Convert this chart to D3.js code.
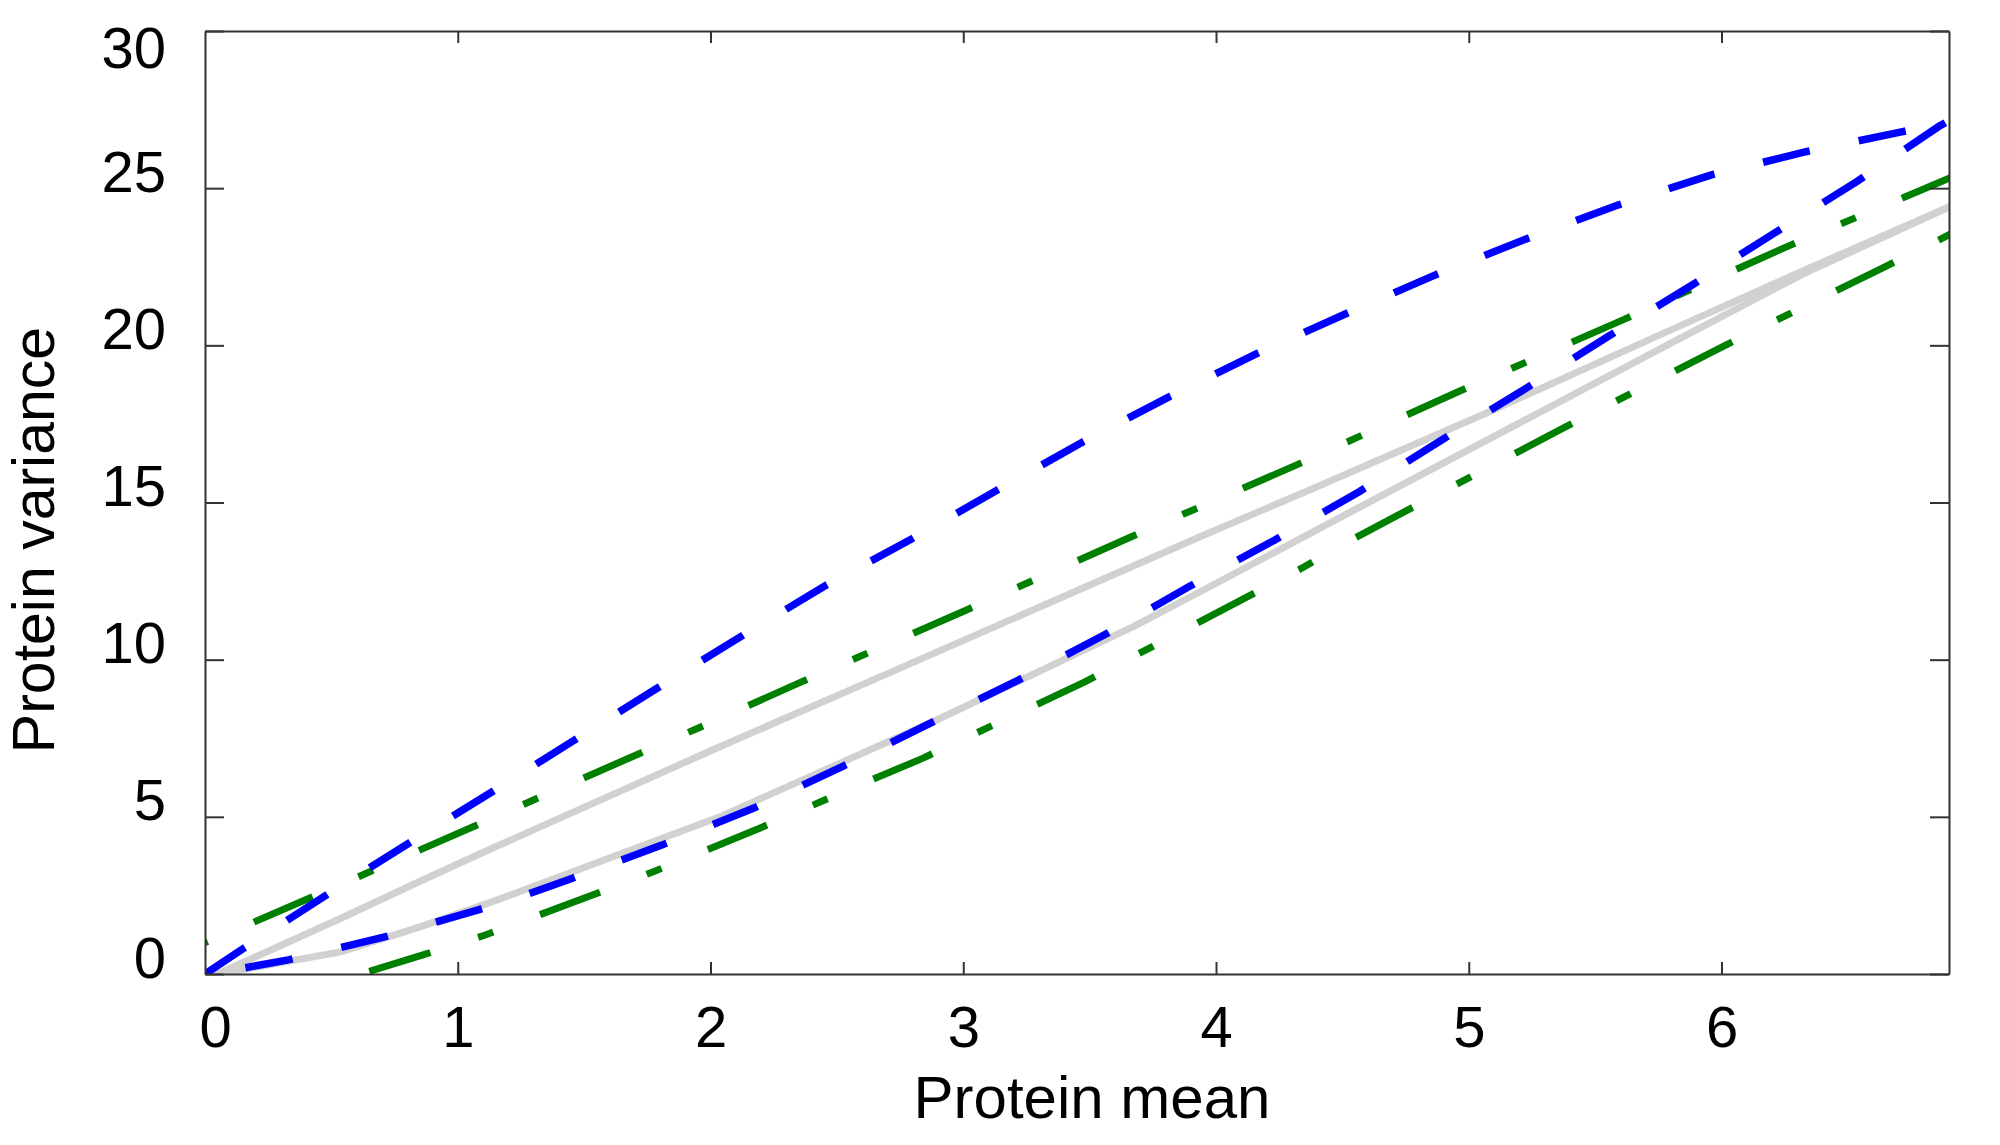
<!DOCTYPE html>
<html>
<head>
<meta charset="utf-8">
<script src="https://cdn.jsdelivr.net/npm/d3@7"></script>
<style>
  html, body { margin: 0; padding: 0; background: #ffffff; }
  svg { display: block; }
  text { font-family: "Liberation Sans", Arial, Helvetica, sans-serif; fill: #000; }
</style>
</head>
<body>
<svg id="chart" width="2000" height="1145"></svg>
<script>
// ---- data ----
const xTicks = [0, 1, 2, 3, 4, 5, 6];
const yTicks = [0, 5, 10, 15, 20, 25, 30];
const xLabel = "Protein mean";
const yLabel = "Protein variance";

// blue dashed band
const blueUpperX = [0, 0.154, 0.488, 0.814, 1.147, 1.473, 1.798, 2.131, 2.46, 2.801, 3.135, 3.476, 3.816, 4.165, 4.518, 4.868, 5.235, 5.593, 5.96, 6.334, 6.717, 6.9];
const blueUpperY = [0, 0.82, 2.55, 4.2, 5.85, 7.5, 9.14, 10.79, 12.38, 13.86, 15.40, 16.94, 18.37, 19.75, 21.02, 22.24, 23.41, 24.47, 25.42, 26.16, 26.80, 27.1];
const blueLowerX = [0, 0.146, 0.329, 0.707, 0.897, 1.081, 1.266, 1.451, 1.629, 1.807, 2.169, 2.521, 2.87, 3.218, 3.559, 3.892, 4.233, 4.568, 4.893, 5.226, 5.551, 5.884, 6.209, 6.535, 6.859, 6.9];
const blueLowerY = [0, 0.18, 0.45, 1.17, 1.61, 2.04, 2.51, 3.04, 3.57, 4.10, 5.27, 6.60, 7.98, 9.35, 10.79, 12.32, 13.81, 15.35, 16.99, 18.63, 20.28, 21.92, 23.57, 25.21, 26.96, 27.15];

// green dash-dot band
const greenUpperX = [0, 0.185, 0.412, 0.654, 1.063, 1.306, 1.715, 1.95, 2.362, 3.013, 3.665, 4.317, 4.96, 5.61, 6.259, 6.884, 6.92];
const greenUpperY = [1.0, 1.62, 2.41, 3.26, 4.69, 5.56, 7.0, 7.82, 9.30, 11.58, 13.91, 16.19, 18.53, 20.81, 23.14, 25.26, 25.38];
const greenLowerX = [0.616, 0.859, 1.109, 1.293, 1.533, 1.776, 2.192, 2.605, 2.839, 3.251, 3.483, 4.112, 4.339, 4.51, 4.735, 5.36, 5.993, 6.634, 6.859, 6.92];
const greenLowerY = [0, 0.60, 1.24, 1.79, 2.51, 3.26, 4.63, 6.07, 6.86, 8.42, 9.30, 11.95, 12.91, 13.70, 14.66, 17.31, 19.91, 22.45, 23.35, 23.6];

// gray solid band
const grayUpperX = [0.05, 0.54, 0.851, 1.114, 2.037, 2.75, 3.937, 4.4, 5.068, 5.8, 6.33, 6.9];
const grayUpperY = [0, 1.78, 2.95, 3.92, 7.23, 9.73, 13.91, 15.5, 17.84, 20.49, 22.4, 24.4];
const grayLowerX = [0.05, 0.54, 0.851, 1.154, 2.037, 2.895, 3.673, 3.937, 4.533, 5.8, 6.33, 6.9];
const grayLowerY = [0, 0.71, 1.50, 2.35, 5.0, 8.08, 11.05, 12.16, 14.7, 20.07, 22.3, 24.4];

// ---- layout ----
const plot = { left: 205, right: 1949, top: 31, bottom: 974 };
const axisColor = "#333333";

const svg = d3.select("#chart");
svg.append("rect").attr("width", 2000).attr("height", 1145).attr("fill", "#fff");

const x = d3.scaleLinear().domain([0, 6.9]).range([plot.left, plot.right]);
const y = d3.scaleLinear().domain([0, 30]).range([plot.bottom, plot.top]);

svg.append("defs").append("clipPath").attr("id", "clip")
  .append("rect")
  .attr("x", plot.left).attr("y", plot.top)
  .attr("width", plot.right - plot.left).attr("height", plot.bottom - plot.top);

const zip = (xs, ys) => xs.map((v, i) => [v, ys[i]]);
const band = (ux, uy, lx, ly) => zip(ux, uy).concat(zip(lx, ly).reverse());
const line = d3.line().x(d => x(d[0])).y(d => y(d[1]));

const g = svg.append("g").attr("clip-path", "url(#clip)");

g.append("path")
  .datum(zip(grayUpperX, grayUpperY))
  .attr("d", line).attr("fill", "none")
  .attr("stroke", "#d1d1d1").attr("stroke-width", 7).attr("stroke-linejoin", "round")
  .attr("stroke-linecap", "round");
g.append("path")
  .datum(zip(grayLowerX, grayLowerY))
  .attr("d", line).attr("fill", "none")
  .attr("stroke", "#d1d1d1").attr("stroke-width", 7).attr("stroke-linejoin", "round")
  .attr("stroke-linecap", "round");

g.append("path")
  .datum(band(greenUpperX, greenUpperY, greenLowerX, greenLowerY))
  .attr("d", line).attr("fill", "none")
  .attr("stroke", "#008000").attr("stroke-width", 7)
  .attr("stroke-dasharray", "64,50,16,50").attr("stroke-dashoffset", 127)
  .attr("stroke-linecap", "butt");

g.append("path")
  .datum(band(blueUpperX, blueUpperY, blueLowerX, blueLowerY))
  .attr("d", line).attr("fill", "none")
  .attr("stroke", "#0000ff").attr("stroke-width", 7.5)
  .attr("stroke-dasharray", "48,50")
  .attr("stroke-linecap", "butt");

// ---- axes ----
const fontSize = 58;
function styleAxis(sel) {
  sel.select(".domain").attr("stroke", axisColor).attr("stroke-width", 2);
  sel.selectAll(".tick line").attr("stroke", axisColor).attr("stroke-width", 2);
}

const gx = svg.append("g").attr("transform", `translate(0,${plot.bottom})`)
  .call(d3.axisBottom(x).tickValues(xTicks).tickFormat(d3.format("d"))
    .tickSizeInner(-12).tickSizeOuter(0).tickPadding(32));
styleAxis(gx);
gx.selectAll(".tick text")
  .attr("font-size", fontSize).attr("fill", "#000")
  .attr("dy", 0).attr("y", 73)
  .attr("x", d => Math.max(x(d), plot.left + 10) - x(d));

const gxTop = svg.append("g").attr("transform", `translate(0,${plot.top})`)
  .call(d3.axisTop(x).tickValues(xTicks).tickFormat("").tickSizeInner(-12).tickSizeOuter(0));
styleAxis(gxTop);

const gy = svg.append("g").attr("transform", `translate(${plot.left},0)`)
  .call(d3.axisLeft(y).tickValues(yTicks).tickFormat(d3.format("d"))
    .tickSizeInner(-19).tickSizeOuter(0).tickPadding(39));
styleAxis(gy);
gy.selectAll(".tick text")
  .attr("font-size", fontSize).attr("fill", "#000")
  .attr("dy", 0)
  .attr("y", d => Math.max(y(d) + 3, 67) - y(d));

const gyRight = svg.append("g").attr("transform", `translate(${plot.right},0)`)
  .call(d3.axisRight(y).tickValues(yTicks).tickFormat("").tickSizeInner(-19).tickSizeOuter(0));
styleAxis(gyRight);

gx.selectAll(".tick").filter(d => d === 0).select("line").remove();
gxTop.selectAll(".tick").filter(d => d === 0).select("line").remove();

// ---- titles ----
svg.append("text")
  .attr("x", 1092).attr("y", 1118)
  .attr("text-anchor", "middle").attr("font-size", 60)
  .text(xLabel);

svg.append("text")
  .attr("transform", "translate(54,540) rotate(-90)")
  .attr("text-anchor", "middle").attr("font-size", 59)
  .text(yLabel);
</script>
</body>
</html>
